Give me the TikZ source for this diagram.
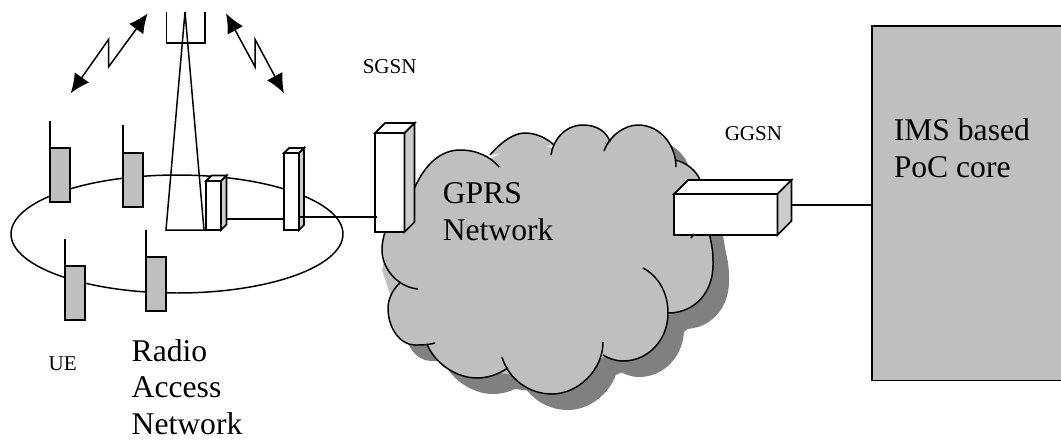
\documentclass[tikz,border=0pt]{standalone}
\usepackage{fontspec}
\setmainfont{Liberation Serif}
\usetikzlibrary{arrows.meta, calc, shapes.geometric}
\definecolor{bodygray}{gray}{0.75}
\definecolor{sidegray}{gray}{0.8}
\definecolor{shadowgray}{gray}{0.5}

\begin{document}
\begin{tikzpicture}[x=0.02cm, y=-0.02cm, line width=0.85pt]
    % Setup the styles
    \tikzset{handset/.style={draw, fill=bodygray, anchor=north west, inner sep=0pt,
                             outer sep=0pt, minimum width=0.4cm, minimum height=1.08cm,
                             line width=1pt},
             frontbox/.style={draw, fill=white, anchor=north west, inner sep=0pt,
                              outer sep=0pt, line width=1pt},
             smalllabel/.style={font=\fontsize{12}{14}\selectfont, inner sep=0pt,
                                anchor=base west},
             biglabel/.style={font=\fontsize{18}{21}\selectfont, inner sep=0pt,
                              align=left, anchor=base west},
             bolt/.style={{Latex[length=11pt,width=10pt]}-{Latex[length=11pt,width=10pt]}}}
    \useasboundingbox (0,0) rectangle (1061,441);
    % Draw the cloud shadow and the cloud
    \def\cloudcore{(382,270) -- (400,190) -- (460,165) -- (492,158) -- (525,140)
                   -- (552,148) -- (583,130) -- (607,145) -- (638,130) -- (674,162)
                   -- (700,190) -- (705,240) -- (690,300) -- (620,350)
                   -- (552,380) -- (477,370) -- (420,340) -- (392,300) -- cycle}
    \def\cloudlobes{{(418,289) .. controls (397,287) and (382,268) .. (382,250)
                       .. controls (382,225) and (400,205) .. (415,187)
                       .. controls (425,165) and (440,150) .. (460,150)
                       .. controls (477,150) and (491,157) .. (499,167)},
                    {(490,155) .. controls (503,140) and (515,133) .. (525,133)
                       .. controls (538,133) and (549,140) .. (554,145)},
                    {(551,155) .. controls (553,140) and (565,125) .. (583,125)
                       .. controls (597,125) and (607,132) .. (610,142)},
                    {(604,151) .. controls (610,135) and (625,125) .. (638,125)
                       .. controls (660,125) and (676,145) .. (676,167)},
                    {(675,160) .. controls (688,163) and (697,172) .. (700,180)
                       -- (710,237) .. controls (713,250) and (713,255) .. (713,265)
                       .. controls (713,292) and (695,313) .. (668,313)},
                    {(643,268) .. controls (658,276) and (668,292) .. (668,313)
                       .. controls (668,340) and (648,361) .. (623,361)
                       .. controls (615,361) and (608,358) .. (603,355)},
                    {(603,342) .. controls (603,370) and (578,394) .. (552,394)
                       .. controls (528,394) and (508,378) .. (502,357)},
                    {(508,368) .. controls (497,375) and (487,378) .. (477,378)
                       .. controls (455,378) and (434,362) .. (427,344)},
                    {(435,343) .. controls (428,345) and (420,345) .. (415,345)
                       .. controls (400,345) and (388,328) .. (388,308)
                       .. controls (388,298) and (394,288) .. (400,283)}}
    \begin{scope}[shift={(16,16)}]
        \fill[shadowgray] \cloudcore;
        \foreach \lobe in \cloudlobes {\fill[shadowgray] \lobe;}
    \end{scope}
    \fill[bodygray] \cloudcore;
    \foreach \lobe in \cloudlobes {\fill[bodygray] \lobe;}
    \foreach \lobe in \cloudlobes {\draw \lobe;}
    % Draw the radio cell and the tower
    \node[draw, ellipse, inner sep=0pt, minimum width=6.64cm, minimum height=2.36cm]
        at (177,234) (cell) {};
    \coordinate (towertop) at (185,12);
    \coordinate (towerleft) at (166,230);
    \coordinate (towerright) at (204,230);
    \coordinate (antennaleft) at (166.5,43);
    \coordinate (antennaright) at (205,43);
    \draw (towerleft) -- (towertop) -- (towerright) -- cycle;
    \draw (antennaleft |- towertop) -- (antennaleft) -- (antennaright) -- (antennaright |- towertop);
    % Draw the handsets
    \node[handset] at (50, 148)  (ueone) {};
    \node[handset] at (123, 153) (uetwo) {};
    \node[handset] at (65, 266)  (uethree) {};
    \node[handset] at (146, 257) (uefour) {};
    \draw (ueone.north west) -- ++(0,-27);
    \draw (uetwo.north west) -- ++(0,-28);
    \draw (uethree.north west) -- ++(0,-27);
    \draw (uefour.north west) -- ++(0,-27);
    % Draw the network boxes
    \node[frontbox, minimum width=0.3cm, minimum height=0.98cm]  at (206, 181) (bts) {};
    \node[frontbox, minimum width=0.3cm, minimum height=1.54cm]  at (284, 153) (rnc) {};
    \node[frontbox, minimum width=0.59cm, minimum height=1.98cm] at (375, 133) (sgsn) {};
    \node[frontbox, minimum width=2.07cm, minimum height=0.82cm] at (674, 194) (ggsn) {};
    \foreach \dev/\dep in {bts/5.5, rnc/5, sgsn/10, ggsn/14} {
        \draw[fill=white, line width=1pt] (\dev.north west) -- ++(\dep,-\dep)
            -- ($(\dev.north east)+(\dep,-\dep)$) -- (\dev.north east) -- cycle;
        \draw[fill=sidegray, line width=1pt] (\dev.north east) -- ++(\dep,-\dep)
            -- ($(\dev.south east)+(\dep,-\dep)$) -- (\dev.south east) -- cycle;
    }
    \node[draw, fill=bodygray, anchor=north west, inner sep=0pt, outer sep=0pt,
          line width=1pt, minimum width=4.1cm, minimum height=7.09cm]
        at (872, 26) (ims) {};
    % Connect the boxes
    \coordinate (btsport) at (226, 219);
    \coordinate (rncport) at (299, 217);
    \coordinate (sgsnport) at (377, 217);
    \coordinate (ggsnport) at (792, 205);
    \draw (btsport) -- (rnc.west |- btsport);
    \draw (rncport) -- (sgsnport);
    \draw (ggsnport) -- (ims.west |- ggsnport);
    \draw (694,234) -- (691,238);
    % Draw the radio links
    \coordinate (boltonea) at (70.7, 93.3);
    \coordinate (boltoneb) at (147.7, 13.3);
    \coordinate (bolttwoa) at (226, 13.3);
    \coordinate (bolttwob) at (284, 93.3);
    \draw[bolt] (boltonea) -- (108.7, 39.3) -- (108.7, 66.7) -- (boltoneb);
    \draw[bolt] (bolttwoa) -- (255, 66.7) -- (255, 39.3) -- (bolttwob);
    % Write the labels
    \node[smalllabel] at (362, 73)  (sgsnlabel) {SGSN};
    \node[smalllabel] at (724, 140) (ggsnlabel) {GGSN};
    \node[smalllabel] at (48, 370)  (uelabel) {UE};
    \node[biglabel, font=\fontsize{18}{20.5}\selectfont] at (131, 434) (ranlabel) {Radio\\Access\\Network};
    \node[biglabel] at (442, 240) (gprslabel) {GPRS\\Network};
    \node[biglabel] at (893, 177) (imslabel) {IMS based\\PoC core};
\end{tikzpicture}
\end{document}
